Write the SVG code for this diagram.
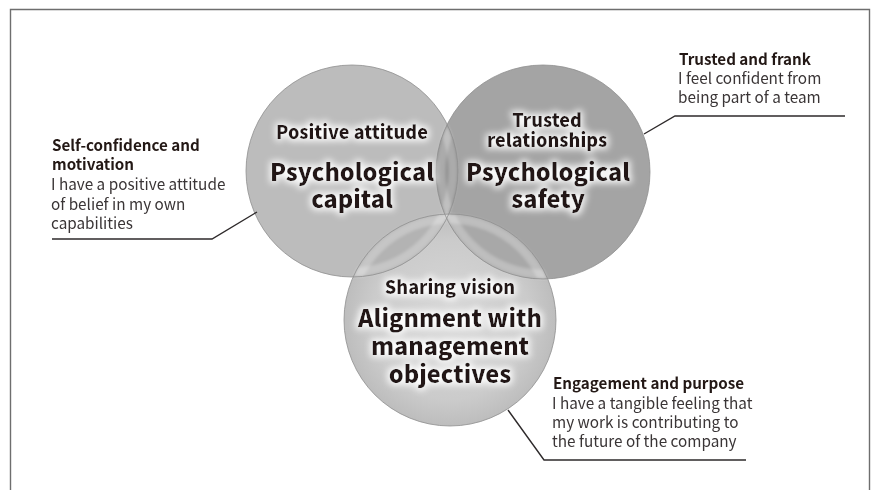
<svg xmlns="http://www.w3.org/2000/svg" width="880" height="490" viewBox="0 0 880 490">
  <style>
    .frame { fill: none; stroke: #6e6e6e; stroke-width: 1.4; }
    .ring { fill: none; stroke: #8f8f8f; stroke-width: 0.8; }
    .halo { fill: none; stroke: #ffffff; stroke-opacity: 0.25; stroke-width: 9; }
    .title { font-family: "Noto Sans CJK JP", "Noto Sans", sans-serif; font-weight: 900; fill: #231815; text-anchor: middle; }
    .sub { font-size: 18px; }
    .main { font-size: 23.5px; }
    .head { font-family: "Noto Sans CJK JP", "Noto Sans", sans-serif; font-weight: 700; font-size: 15.2px; fill: #231815; }
    .body { font-family: "Noto Sans CJK JP", "Noto Sans", sans-serif; font-weight: 400; font-size: 15.3px; fill: #3a3536; }
    .leader { fill: none; stroke: #2e2a2b; stroke-width: 1.4; }
  </style>
  <defs>
    <radialGradient id="gBottom" cx="0.5" cy="0.5" r="0.5">
      <stop offset="0" stop-color="#d9d9d9"/>
      <stop offset="0.75" stop-color="#cbcbcb"/>
      <stop offset="1" stop-color="#bdbdbd"/>
    </radialGradient>
    <clipPath id="clipL"><circle cx="352" cy="171" r="106"/></clipPath>
    <clipPath id="clipR"><circle cx="543" cy="172" r="107"/></clipPath>
    <clipPath id="clipB"><circle cx="450" cy="320" r="106"/></clipPath>
    <filter id="glow" x="-20%" y="-40%" width="140%" height="180%">
      <feMorphology in="SourceAlpha" operator="dilate" radius="2" result="fat"/>
      <feGaussianBlur in="fat" stdDeviation="3.5" result="soft"/>
      <feFlood flood-color="#ffffff" flood-opacity="0.95"/>
      <feComposite in2="soft" operator="in" result="glowc"/>
      <feMerge>
        <feMergeNode in="glowc"/>
        <feMergeNode in="SourceGraphic"/>
      </feMerge>
    </filter>
    <filter id="softEdge" x="-10%" y="-10%" width="120%" height="120%">
      <feGaussianBlur stdDeviation="1.5"/>
    </filter>
  </defs>

  <!-- outer frame, open at the bottom -->
  <path class="frame" d="M10.5 490 V9.5 H869.5 V490"/>

  <!-- circles -->
  <g id="circle-bottom">
    <circle cx="450" cy="320" r="106" fill="url(#gBottom)"/>
  </g>
  <g id="circle-left">
    <circle cx="352" cy="171" r="106" fill="#bcbcbc"/>
  </g>
  <g id="circle-right">
    <circle cx="543" cy="172" r="107" fill="#a4a4a4"/>
  </g>

  <!-- overlaps -->
  <g id="overlaps">
    <circle cx="352" cy="171" r="106" fill="#8f8f8f" clip-path="url(#clipR)"/>
    <g clip-path="url(#clipB)">
      <circle cx="352" cy="171" r="106" fill="#b3b3b3"/>
      <circle cx="543" cy="172" r="107" fill="#a8a8a8"/>
    </g>
    <!-- light bands along the edges inside neighbouring circles -->
    <g filter="url(#softEdge)">
      <circle class="halo" cx="352" cy="171" r="101" clip-path="url(#clipR)"/>
      <circle class="halo" cx="543" cy="172" r="102" clip-path="url(#clipL)"/>
      <circle class="halo" cx="450" cy="320" r="101" clip-path="url(#clipL)"/>
      <circle class="halo" cx="450" cy="320" r="101" clip-path="url(#clipR)"/>
      <circle class="halo" cx="352" cy="171" r="101" clip-path="url(#clipB)"/>
      <circle class="halo" cx="543" cy="172" r="102" clip-path="url(#clipB)"/>
    </g>
    <circle class="ring" cx="352" cy="171" r="106"/>
    <circle class="ring" cx="543" cy="172" r="107"/>
    <circle class="ring" cx="450" cy="320" r="106"/>
  </g>

  <!-- circle labels -->
  <g id="label-left" class="title" filter="url(#glow)">
    <text class="sub" x="352" y="139">Positive attitude</text>
    <text class="main" x="352" y="181">Psychological</text>
    <text class="main" x="352" y="208">capital</text>
  </g>
  <g id="label-right" class="title" filter="url(#glow)">
    <text class="sub" x="547" y="127">Trusted</text>
    <text class="sub" x="547" y="147">relationships</text>
    <text class="main" x="548" y="181">Psychological</text>
    <text class="main" x="548" y="208">safety</text>
  </g>
  <g id="label-bottom" class="title" filter="url(#glow)">
    <text class="sub" x="450" y="294">Sharing vision</text>
    <text class="main" x="450" y="327">Alignment with</text>
    <text class="main" x="450" y="355">management</text>
    <text class="main" x="450" y="383">objectives</text>
  </g>

  <!-- callouts -->
  <g id="note-left">
    <text class="head" x="52" y="151">Self-confidence and</text>
    <text class="head" x="52" y="170">motivation</text>
    <text class="body" x="51" y="190">I have a positive attitude</text>
    <text class="body" x="51" y="210">of belief in my own</text>
    <text class="body" x="51" y="229">capabilities</text>
  </g>
  <g id="note-right">
    <text class="head" x="679" y="65">Trusted and frank</text>
    <text class="body" x="678" y="84">I feel confident from</text>
    <text class="body" x="678" y="103">being part of a team</text>
  </g>
  <g id="note-bottom">
    <text class="head" x="553" y="389">Engagement and purpose</text>
    <text class="body" x="552" y="409">I have a tangible feeling that</text>
    <text class="body" x="552" y="428">my work is contributing to</text>
    <text class="body" x="552" y="447">the future of the company</text>
  </g>

  <!-- leader lines -->
  <g id="connectors">
    <polyline class="leader" points="52,239 212,239 257,212"/>
    <polyline class="leader" points="644,134 675,116 845,116"/>
    <polyline class="leader" points="508,410 544,460 746,460"/>
  </g>
</svg>
